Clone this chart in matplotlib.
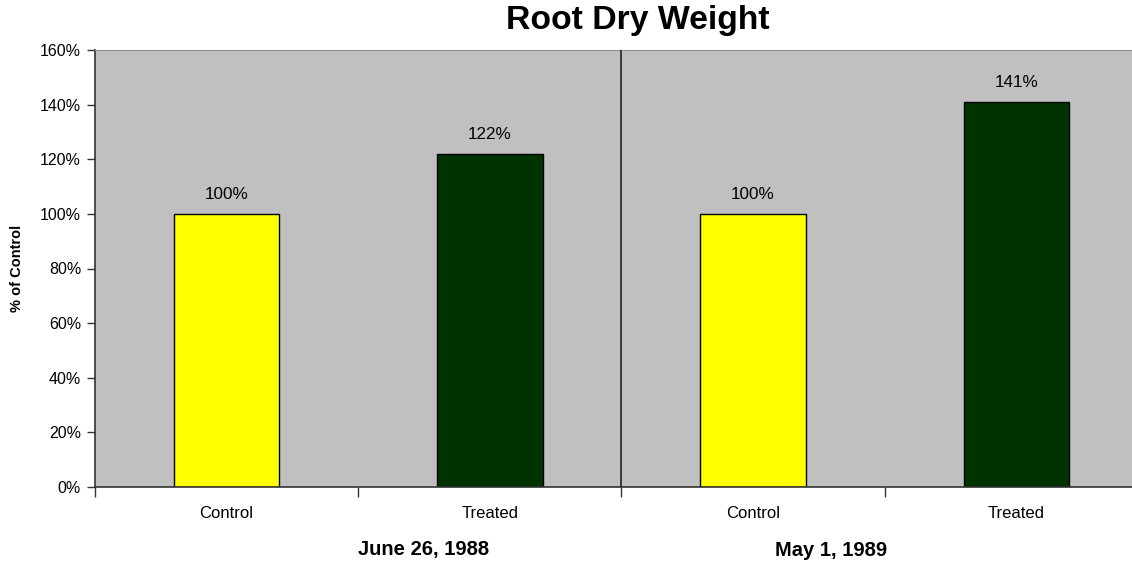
import matplotlib
matplotlib.use("Agg")
import matplotlib.pyplot as plt
from matplotlib.ticker import PercentFormatter

plt.rcParams['font.family'] = ['Liberation Sans', 'DejaVu Sans']

categories = ["Control", "Treated", "Control", "Treated"]
groups = ["June 26, 1988", "May 1, 1989"]
values = [100, 122, 100, 141]
colors = ["#ffff00", "#003300", "#ffff00", "#003300"]
yticks = [0, 20, 40, 60, 80, 100, 120, 140, 160]

W, H = 1132, 562
fig = plt.figure(figsize=(W / 100, H / 100), dpi=100)
# axes spans pixels x 95..1148, y 50..487
ax = fig.add_axes([95 / W, 1 - 487 / H, (1148 - 95) / W, (487 - 50) / H])
ax.set_facecolor("#c0c0c0")

x = list(range(len(values)))
bars = ax.bar(x, values, width=0.4, color=colors, edgecolor="black", linewidth=1.0, zorder=2)
for xi, v in zip(x, values):
    ax.annotate(f"{v}%", (xi, v), xytext=(0, 8.5), textcoords="offset points",
                ha="center", va="bottom", fontsize=12.3)

ax.set_xlim(-0.5, len(values) - 0.5)
ax.set_ylim(0, 160)
ax.set_yticks(yticks)
ax.yaxis.set_major_formatter(PercentFormatter(decimals=0))
ax.tick_params(axis="y", labelsize=11.5, length=6, width=1, color="#333333", pad=4)

ax.set_xticks([-0.5, 0.5, 1.5, 2.5, 3.5])
ax.set_xticklabels([])
ax.set_xticks(x, minor=True)
ax.set_xticklabels(categories, minor=True, fontsize=12)
ax.tick_params(axis="x", which="major", length=7, width=1, color="#333333")
ax.tick_params(axis="x", which="minor", length=0, pad=14)

# group divider
ax.axvline(1.5, color="#222222", linewidth=1.2, zorder=3)

for s in ["left", "bottom"]:
    ax.spines[s].set_color("#333333")
    ax.spines[s].set_linewidth(1.2)
ax.spines["top"].set_color("#909090")
ax.spines["right"].set_visible(False)

ax.set_ylabel("% of Control", fontsize=10.5, fontweight="bold")
ax.yaxis.set_label_coords(-71 / (1148 - 95), 0.5)

fig.text(638 / W, 1 - 21 / H, "Root Dry Weight", ha="center", va="center",
         fontsize=24.3, fontweight="bold")
fig.text(424 / W, 1 - 550 / H, groups[0], ha="center", va="center",
         fontsize=14.5, fontweight="bold")
fig.text(831 / W, 1 - 550 / H, groups[1], ha="center", va="center",
         fontsize=14.5, fontweight="bold")

fig.savefig("out.png", dpi=100)
